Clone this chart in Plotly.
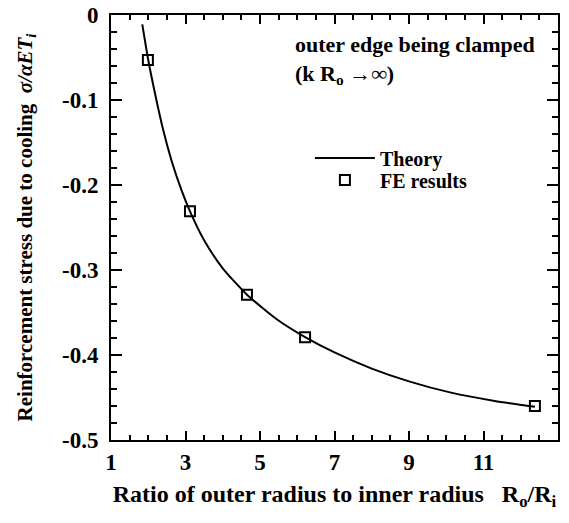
import plotly.graph_objects as go

# Theory curve
theory_x = [1.84, 2.0, 2.18, 2.40, 2.63, 2.90, 3.12, 3.5, 4.0, 4.65, 5.45, 6.21, 7.0, 8.0, 9.0, 10.1, 11.3, 12.38]
theory_y = [-0.011, -0.053, -0.092, -0.135, -0.172, -0.207, -0.231, -0.265, -0.298, -0.329, -0.358, -0.379, -0.397, -0.416, -0.431, -0.444, -0.454, -0.461]

# FE results
fe_x = [1.99, 3.12, 4.65, 6.21, 12.38]
fe_y = [-0.053, -0.231, -0.329, -0.379, -0.460]

x_tickvals = [1, 3, 5, 7, 9, 11, 13]
x_ticktext = ["<b>1</b>", "<b>3</b>", "<b>5</b>", "<b>7</b>", "<b>9</b>", "<b>11</b>", "<b>13</b>"]
y_tickvals = [0, -0.1, -0.2, -0.3, -0.4, -0.5]
y_ticktext = ["<b>0</b>", "<b>-0.1</b>", "<b>-0.2</b>", "<b>-0.3</b>", "<b>-0.4</b>", "<b>-0.5</b>"]

FONT = "Liberation Serif"

fig = go.Figure()
fig.add_trace(go.Scatter(
    x=theory_x, y=theory_y, mode="lines", name="<b>Theory</b>", legend="legend",
    line=dict(color="black", width=2, shape="spline", smoothing=0.6),
))
fig.add_trace(go.Scatter(
    x=fe_x, y=fe_y, mode="markers", name="<b>FE results</b>", legend="legend2",
    marker=dict(symbol="square-open", size=10, color="black", line=dict(width=2, color="black")),
))

leg_common = dict(xanchor="left", yanchor="middle", bgcolor="rgba(0,0,0,0)",
                  font=dict(family=FONT, size=20, color="black"), itemwidth=60)

fig.update_layout(
    template="simple_white",
    width=569, height=523,
    margin=dict(l=111, r=11, t=15, b=83),
    paper_bgcolor="white", plot_bgcolor="white",
    font=dict(family=FONT, size=21, color="black"),
    showlegend=True,
    legend=dict(x=0.445, y=(440 - 158) / 425, **leg_common),
    legend2=dict(x=0.445, y=(440 - 180) / 425, **leg_common),
    xaxis=dict(
        range=[1, 13], tickvals=x_tickvals, ticktext=x_ticktext,
        ticks="inside", ticklen=9, tickwidth=2, tickcolor="black",
        showline=True, linewidth=2, linecolor="black", mirror="ticks",
        showgrid=False, zeroline=False, automargin=False,
        tickfont=dict(family=FONT, size=23, color="black"),
        minor=dict(ticks="inside", tick0=1, dtick=0.5, ticklen=5, tickwidth=1.5, tickcolor="black"),
        title=dict(text="<b>Ratio of outer radius to inner radius   R<sub>o</sub>/R<sub>i</sub></b>",
                   font=dict(family=FONT, size=24, color="black"), standoff=12),
    ),
    yaxis=dict(
        range=[-0.5, 0], tickvals=y_tickvals, ticktext=y_ticktext,
        ticks="inside", ticklen=11, tickwidth=2, tickcolor="black",
        showline=True, linewidth=2, linecolor="black", mirror="ticks",
        showgrid=False, zeroline=False, automargin=False,
        tickfont=dict(family=FONT, size=23, color="black"),
        ticklabelstandoff=6,
        minor=dict(ticks="inside", tick0=0, dtick=0.02, ticklen=6, tickwidth=1.5, tickcolor="black"),
        title=dict(text="<b>Reinforcement stress due to cooling  <i>σ/αET</i><sub><i>i</i></sub></b>",
                   font=dict(family=FONT, size=21, color="black"), standoff=24),
    ),
)

fig.add_annotation(
    xref="paper", yref="paper", x=(293 - 111) / 447, y=(440 - 30) / 425,
    xanchor="left", yanchor="top", align="left", showarrow=False,
    text="<b>outer edge being clamped<br>(k R<sub>o</sub> →∞)</b>",
    font=dict(family=FONT, size=22, color="black"),
)

fig.write_html("out.html", post_script="document.body.style.margin='0px';",
               config={"displayModeBar": False})
